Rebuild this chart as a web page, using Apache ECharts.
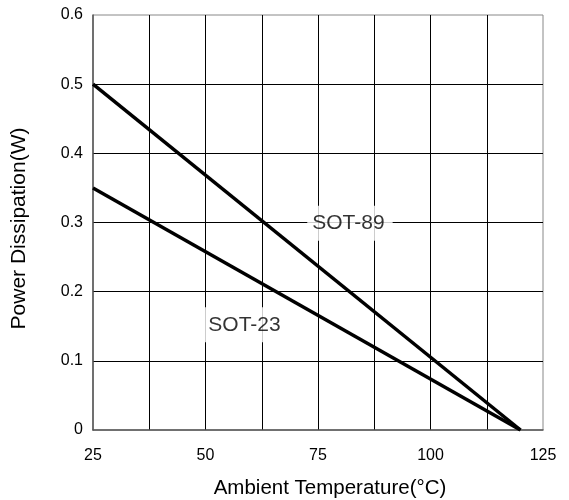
<!DOCTYPE html>
<html>
<head>
<meta charset="utf-8">
<script src="https://cdn.jsdelivr.net/npm/echarts@6/dist/echarts.min.js"></script>
<style>html,body{margin:0;padding:0;background:#fff}#c{width:569px;height:500px}</style>
</head>
<body>
<div id="c"></div>
<script>
var temps = [25, 120];
var sot89 = [0.5, 0];
var sot23 = [0.35, 0];
var xTickLabels = [25, 50, 75, 100, 125];
var yTickLabels = [0, 0.1, 0.2, 0.3, 0.4, 0.5, 0.6];
var labelNames = ['SOT-89', 'SOT-23'];
var labelX = [82.1, 59];
var labelY = [0.299, 0.152];

var FONT = '"Liberation Sans", Arial, sans-serif';
var chart = echarts.init(document.getElementById('c'), null, {renderer: 'canvas'});

function pairs(xs, ys) { return xs.map(function (x, i) { return [x, ys[i]]; }); }

chart.setOption({
  animation: false,
  backgroundColor: '#fff',
  grid: {left: 93, right: 26, top: 15, bottom: 70, show: true, borderColor: '#888', borderWidth: 1,
         containLabel: false, outerBoundsMode: 'none'},
  xAxis: {
    type: 'value', min: 25, max: 125, interval: 12.5,
    name: 'Ambient Temperature(°C)', nameLocation: 'middle', nameGap: 48,
    nameTextStyle: {fontFamily: FONT, fontSize: 20.5, color: '#000', padding: [0, 0, 0, 24]},
    axisLine: {show: true, lineStyle: {color: '#555', width: 1.5}},
    axisTick: {show: false},
    axisLabel: {
      fontFamily: FONT, fontSize: 16, color: '#000', margin: 18,
      formatter: function (v) { return xTickLabels.indexOf(v) >= 0 ? String(v) : ''; }
    },
    splitLine: {show: true, showMinLine: false, showMaxLine: false, lineStyle: {color: '#000', width: 1}}
  },
  yAxis: {
    type: 'value', min: 0, max: 0.6, interval: 0.1,
    name: 'Power Dissipation(W)', nameLocation: 'middle', nameGap: 63,
    nameTextStyle: {fontFamily: FONT, fontSize: 21, color: '#000', padding: [0, 12, 0, 0]},
    axisLine: {show: true, lineStyle: {color: '#555', width: 1.5}},
    axisTick: {show: false},
    axisLabel: {
      fontFamily: FONT, fontSize: 16, color: '#000', margin: 10,
      formatter: function (v) { var r = Math.round(v * 10) / 10; return yTickLabels.indexOf(r) >= 0 ? String(r) : ''; }
    },
    splitLine: {show: true, showMinLine: false, showMaxLine: false, lineStyle: {color: '#000', width: 1}}
  },
  series: [
    {type: 'line', data: pairs(temps, sot89), symbol: 'none', lineStyle: {color: '#000', width: 3.5}, z: 3},
    {type: 'line', data: pairs(temps, sot23), symbol: 'none', lineStyle: {color: '#000', width: 3.5}, z: 3},
    {
      type: 'scatter', symbolSize: 0, z: 5,
      data: labelNames.map(function (n, i) { return {name: n, value: [labelX[i], labelY[i]]}; }),
      label: {
        show: true, position: 'inside', formatter: '{b}',
        fontFamily: FONT, fontSize: 21, color: '#000',
        backgroundColor: '#fff', padding: [7, 8, 7, 5]
      }
    }
  ]
});
</script>
</body>
</html>
